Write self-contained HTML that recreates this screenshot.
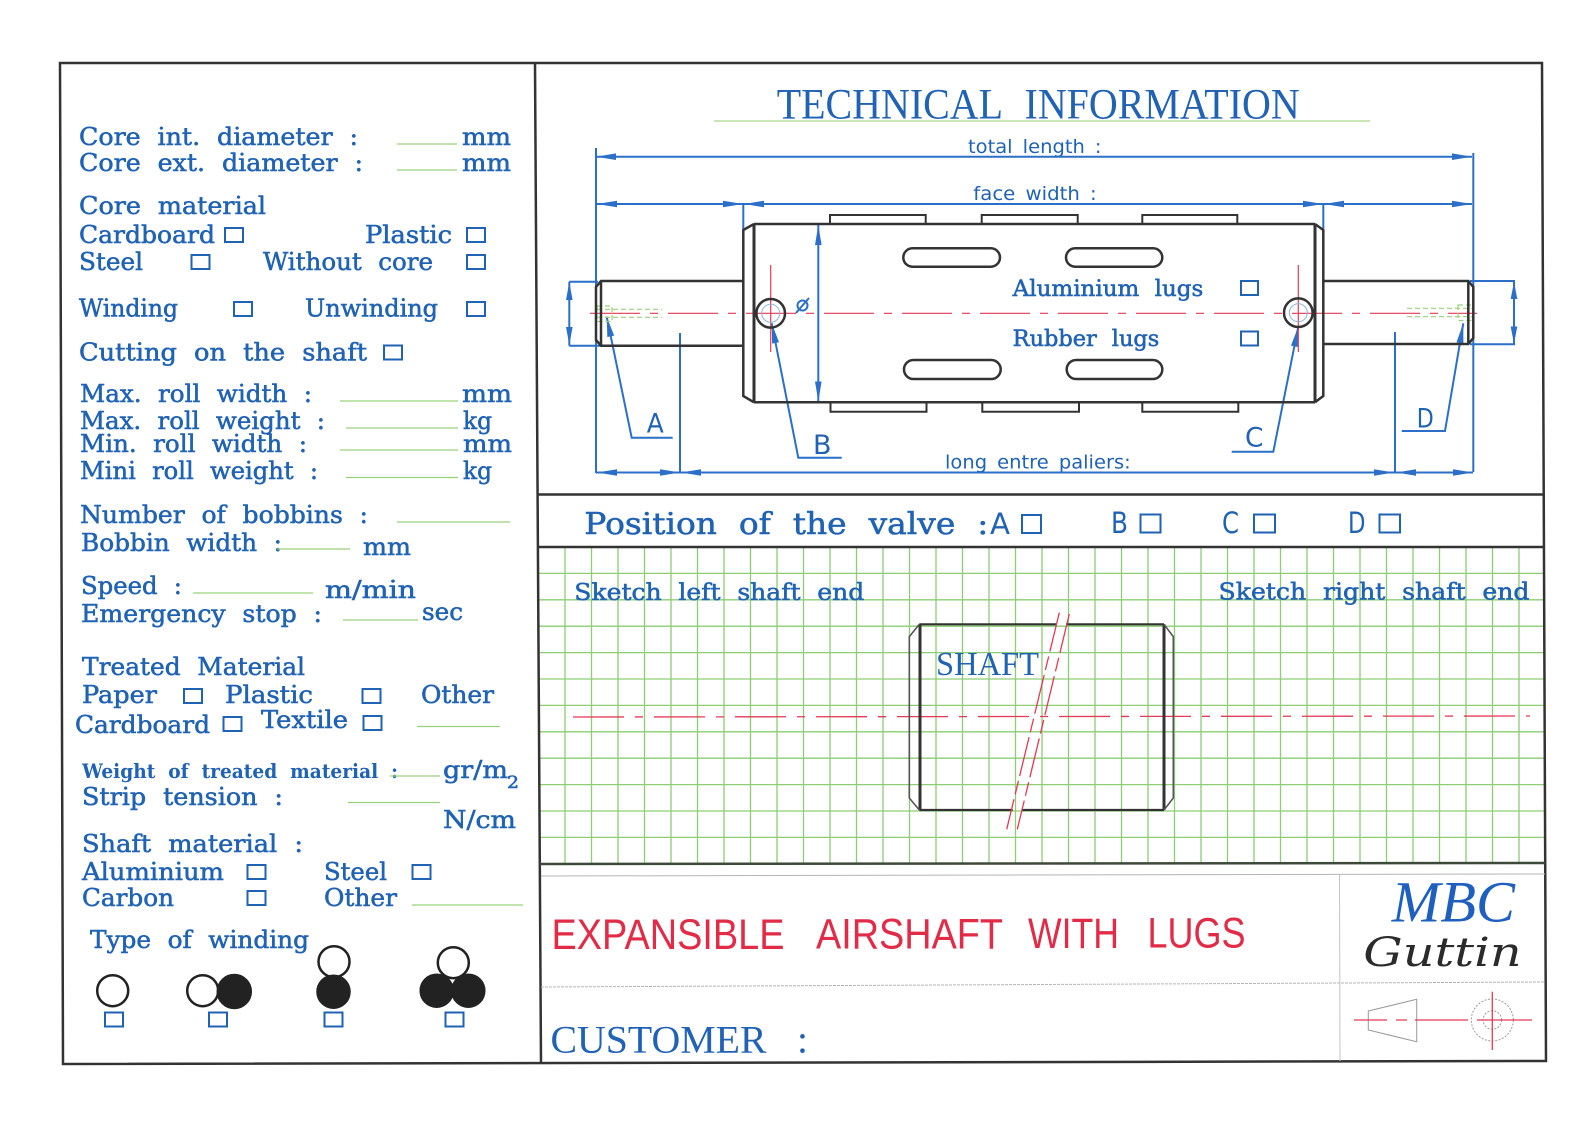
<!DOCTYPE html>
<html>
<head>
<meta charset="utf-8">
<style>
html,body{margin:0;padding:0;background:#fff;}
svg{display:block;}
.l{font-family:"DejaVu Serif",serif;font-weight:normal;font-size:24px;fill:#2062b4;stroke:#2062b4;stroke-width:0.55;word-spacing:0.35em;}
.s{font-family:"DejaVu Sans",sans-serif;font-size:19px;fill:#2062b4;word-spacing:0.2em;}
.ab{font-family:"DejaVu Sans",sans-serif;font-size:27px;fill:#2062b4;}
.cb{fill:none;stroke:#2062b4;stroke-width:2;}
.bl{stroke:#2b6fc8;stroke-width:2;fill:none;}
.ar{fill:#2b6fc8;}
.dk{stroke:#333;stroke-width:2.5;fill:none;}
.gr{stroke:#9bd07a;stroke-width:1.2;}
</style>
</head>
<body>
<svg width="1595" height="1127" viewBox="0 0 1595 1127" xmlns="http://www.w3.org/2000/svg">
<rect width="1595" height="1127" fill="#fff"/>

<!-- GRID -->
<path stroke="#8dcd74" stroke-width="1.3" fill="none" d="M565 547V864M591.5 547V864M618 547V864M644.5 547V864M671 547V864M697.5 547V864M724 547V864M750.5 547V864M777 547V864M803.5 547V864M830 547V864M856.5 547V864M883 547V864M909.5 547V864M936 547V864M962.5 547V864M989 547V864M1015.5 547V864M1042 547V864M1068.5 547V864M1095 547V864M1121.5 547V864M1148 547V864M1174.5 547V864M1201 547V864M1227.5 547V864M1254 547V864M1280.5 547V864M1307 547V864M1333.5 547V864M1360 547V864M1386.5 547V864M1413 547V864M1439.5 547V864M1466 547V864M1492.5 547V864M1519 547V864
M539 573.4H1545M539 599.8H1545M539 626.2H1545M539 652.6H1545M539 679H1545M539 705.4H1545M539 731.8H1545M539 758.2H1545M539 784.6H1545M539 811H1545M539 837.4H1545"/>

<!-- FRAME -->
<polygon points="60,63 1542,63 1546,1061 63,1064" fill="none" stroke="#333" stroke-width="2.5"/>
<line x1="535" y1="63" x2="541" y2="1064" stroke="#333" stroke-width="2.5"/>
<line x1="537.5" y1="494.5" x2="1543.5" y2="494.5" stroke="#333" stroke-width="2.5"/>
<line x1="538" y1="547" x2="1544" y2="547" stroke="#333" stroke-width="2.5"/>
<line x1="540" y1="864" x2="1545" y2="863" stroke="#3d4a3a" stroke-width="2.5"/>
<line x1="541" y1="876" x2="1545" y2="874" stroke="#b5b5b5" stroke-width="1"/>
<line x1="541" y1="987" x2="1545" y2="982" stroke="#b5b5b5" stroke-width="1" stroke-dasharray="3 1"/>
<line x1="1339.5" y1="875" x2="1340" y2="1061" stroke="#c5c5c5" stroke-width="1"/>

<!-- LEFT PANEL -->
<text class="l" x="79" y="145" textLength="279" lengthAdjust="spacingAndGlyphs">Core int. diameter :</text>
<line class="gr" x1="397" y1="144" x2="457" y2="144"/>
<text class="l" x="462" y="145" textLength="49" lengthAdjust="spacingAndGlyphs">mm</text>
<text class="l" x="79" y="171" textLength="284" lengthAdjust="spacingAndGlyphs">Core ext. diameter :</text>
<line class="gr" x1="397" y1="170" x2="457" y2="170"/>
<text class="l" x="462" y="171" textLength="49" lengthAdjust="spacingAndGlyphs">mm</text>

<text class="l" x="79" y="214" textLength="187" lengthAdjust="spacingAndGlyphs">Core material</text>
<text class="l" x="79" y="243" textLength="136" lengthAdjust="spacingAndGlyphs">Cardboard</text>
<rect class="cb" x="225" y="228" width="18" height="14"/>
<text class="l" x="365" y="243" textLength="87" lengthAdjust="spacingAndGlyphs">Plastic</text>
<rect class="cb" x="467" y="228" width="18" height="14"/>
<text class="l" x="79" y="270" textLength="64" lengthAdjust="spacingAndGlyphs">Steel</text>
<rect class="cb" x="191.5" y="255" width="18" height="14"/>
<text class="l" x="263" y="270" textLength="170" lengthAdjust="spacingAndGlyphs">Without core</text>
<rect class="cb" x="467" y="255" width="18" height="14"/>

<text class="l" x="79" y="316.7" textLength="99" lengthAdjust="spacingAndGlyphs">Winding</text>
<rect class="cb" x="234" y="302" width="18" height="14"/>
<text class="l" x="305" y="316.7" textLength="133" lengthAdjust="spacingAndGlyphs">Unwinding</text>
<rect class="cb" x="467" y="302" width="18" height="14"/>

<text class="l" x="79" y="360.5" textLength="288" lengthAdjust="spacingAndGlyphs">Cutting on the shaft</text>
<rect class="cb" x="384" y="345.5" width="18" height="14"/>

<text class="l" x="80" y="402" textLength="232" lengthAdjust="spacingAndGlyphs">Max. roll width :</text>
<line class="gr" x1="340" y1="401" x2="458" y2="401"/>
<text class="l" x="462" y="402" textLength="50" lengthAdjust="spacingAndGlyphs">mm</text>
<text class="l" x="80" y="429" textLength="245" lengthAdjust="spacingAndGlyphs">Max. roll weight :</text>
<line class="gr" x1="346" y1="428" x2="458" y2="428"/>
<text class="l" x="463" y="429" textLength="29" lengthAdjust="spacingAndGlyphs">kg</text>
<text class="l" x="80" y="452" textLength="227" lengthAdjust="spacingAndGlyphs">Min. roll width :</text>
<line class="gr" x1="340" y1="450" x2="458" y2="450"/>
<text class="l" x="463" y="452" textLength="49" lengthAdjust="spacingAndGlyphs">mm</text>
<text class="l" x="80" y="479" textLength="238" lengthAdjust="spacingAndGlyphs">Mini roll weight :</text>
<line class="gr" x1="346" y1="477.5" x2="458" y2="477.5"/>
<text class="l" x="463" y="479" textLength="29" lengthAdjust="spacingAndGlyphs">kg</text>

<text class="l" x="80" y="523" textLength="288" lengthAdjust="spacingAndGlyphs">Number of bobbins :</text>
<line class="gr" x1="397" y1="522" x2="510" y2="522"/>
<text class="l" x="81" y="551" textLength="201" lengthAdjust="spacingAndGlyphs">Bobbin width :</text>
<line class="gr" x1="277" y1="549" x2="350" y2="549"/>
<text class="l" x="363" y="555" textLength="48" lengthAdjust="spacingAndGlyphs">mm</text>

<text class="l" x="81" y="594" textLength="101" lengthAdjust="spacingAndGlyphs">Speed :</text>
<line class="gr" x1="193" y1="593" x2="313" y2="593"/>
<text class="l" x="325" y="598" textLength="91" lengthAdjust="spacingAndGlyphs">m/min</text>
<text class="l" x="81" y="622" textLength="241" lengthAdjust="spacingAndGlyphs">Emergency stop :</text>
<line class="gr" x1="343" y1="620" x2="418" y2="620"/>
<text class="l" x="422" y="620" textLength="41" lengthAdjust="spacingAndGlyphs">sec</text>

<text class="l" x="82" y="675" textLength="223" lengthAdjust="spacingAndGlyphs">Treated Material</text>
<text class="l" x="82" y="703" textLength="75" lengthAdjust="spacingAndGlyphs">Paper</text>
<rect class="cb" x="184" y="689" width="18" height="14"/>
<text class="l" x="225" y="703" textLength="88" lengthAdjust="spacingAndGlyphs">Plastic</text>
<rect class="cb" x="362.5" y="689" width="18" height="14"/>
<text class="l" x="421" y="703" textLength="73" lengthAdjust="spacingAndGlyphs">Other</text>
<text class="l" x="75" y="733" textLength="135" lengthAdjust="spacingAndGlyphs">Cardboard</text>
<rect class="cb" x="223.5" y="717" width="18" height="14"/>
<text class="l" x="261" y="728" textLength="87" lengthAdjust="spacingAndGlyphs">Textile</text>
<rect class="cb" x="363.5" y="716" width="18" height="14"/>
<line class="gr" x1="417" y1="726.5" x2="500" y2="726.5"/>

<text class="l" x="82" y="778" style="font-size:19.5px;font-weight:bold;stroke-width:0" textLength="316" lengthAdjust="spacingAndGlyphs">Weight of treated material :</text>
<line class="gr" x1="390" y1="776" x2="440" y2="776"/>
<text class="l" x="443" y="778" textLength="65" lengthAdjust="spacingAndGlyphs">gr/m</text>
<text class="l" x="507" y="788" style="font-size:17px" textLength="12" lengthAdjust="spacingAndGlyphs">2</text>
<text class="l" x="82" y="805" textLength="201" lengthAdjust="spacingAndGlyphs">Strip tension :</text>
<line class="gr" x1="348" y1="802.5" x2="440" y2="802.5"/>
<text class="l" x="443" y="828" textLength="73" lengthAdjust="spacingAndGlyphs">N/cm</text>

<text class="l" x="82" y="852" textLength="221" lengthAdjust="spacingAndGlyphs">Shaft material :</text>
<text class="l" x="82" y="880" textLength="142" lengthAdjust="spacingAndGlyphs">Aluminium</text>
<rect class="cb" x="247.5" y="865" width="18" height="14"/>
<text class="l" x="324" y="880" textLength="63" lengthAdjust="spacingAndGlyphs">Steel</text>
<rect class="cb" x="412.5" y="865" width="18" height="14"/>
<text class="l" x="82" y="906" textLength="92" lengthAdjust="spacingAndGlyphs">Carbon</text>
<rect class="cb" x="247.5" y="891" width="18" height="14"/>
<text class="l" x="324" y="906" textLength="73" lengthAdjust="spacingAndGlyphs">Other</text>
<line class="gr" x1="412" y1="905" x2="523" y2="905"/>

<text class="l" x="90" y="948" textLength="219" lengthAdjust="spacingAndGlyphs">Type of winding</text>

<!-- winding symbols -->
<g stroke="#222" stroke-width="2.5">
<circle cx="112.7" cy="990.7" r="15.5" fill="none"/>
<circle cx="202.7" cy="990.7" r="15.5" fill="none"/>
<circle cx="234.3" cy="991.5" r="16.5" fill="#222"/>
<circle cx="334" cy="961.7" r="15.5" fill="none"/>
<circle cx="333.5" cy="991.7" r="16" fill="#222"/>
<circle cx="453.3" cy="962.7" r="15.5" fill="none"/>
<circle cx="436.7" cy="990.7" r="16" fill="#222"/>
<circle cx="468.3" cy="990.7" r="16" fill="#222"/>
</g>
<rect class="cb" x="105" y="1012.5" width="18" height="14"/>
<rect class="cb" x="209" y="1012.5" width="18" height="14"/>
<rect class="cb" x="324.5" y="1012.5" width="18" height="14"/>
<rect class="cb" x="445.5" y="1012.5" width="18" height="14"/>

<!-- TECHNICAL INFORMATION -->
<text x="776.7" y="118.3" font-family="Liberation Serif, serif" font-size="43" fill="#2062b4" style="word-spacing:14px" textLength="523" lengthAdjust="spacingAndGlyphs">TECHNICAL INFORMATION</text>
<line x1="714" y1="121" x2="1370" y2="121" stroke="#a8d88a" stroke-width="1.2"/>

<text class="s" x="968" y="153" textLength="133.5" lengthAdjust="spacingAndGlyphs">total length :</text>
<text class="s" x="973.3" y="200" textLength="123.4" lengthAdjust="spacingAndGlyphs">face width :</text>
<text class="s" x="945" y="468.3" textLength="185.7" lengthAdjust="spacingAndGlyphs">long entre paliers:</text>

<!-- dimension lines -->
<g class="bl">
<path d="M596 156.7H1472M596 204H1472M596 472.5H1473"/>
<path d="M596 148V473M743.3 204V229M1323.3 204V229M680 333V473M1395 332V472M1473.3 153V472"/>
<path d="M818.3 224.3V402.3"/>
<path d="M569.3 281.7V345.7M569.3 281.7H598M569.3 345.7H601"/>
<path d="M1514 281V344.3M1470 281H1515M1470 344.3H1515"/>
<path d="M606.7 316.7L631.7 437.7H672.7"/>
<path d="M771.7 323.3L798.3 457.7H841.7"/>
<path d="M1298.3 326.7L1273.3 451.7H1231.7"/>
<path d="M1463.3 323.3L1445 431H1401.7"/>
</g>
<g class="ar">
<polygon points="596,156.7 616,153.4 616,160"/>
<polygon points="1472,156.7 1452,153.4 1452,160"/>
<polygon points="597,204 617,200.7 617,207.3"/>
<polygon points="743,204 723,200.7 723,207.3"/>
<polygon points="744,204 764,200.7 764,207.3"/>
<polygon points="1323,204 1303,200.7 1303,207.3"/>
<polygon points="1324,204 1344,200.7 1344,207.3"/>
<polygon points="1472,204 1452,200.7 1452,207.3"/>
<polygon points="597,472.5 617,469.2 617,475.8"/>
<polygon points="680,472.5 660,469.2 660,475.8"/>
<polygon points="681,472.5 701,469.2 701,475.8"/>
<polygon points="1394,472.5 1374,469.2 1374,475.8"/>
<polygon points="1396,472.5 1416,469.2 1416,475.8"/>
<polygon points="1473,472.5 1453,469.2 1453,475.8"/>
<polygon points="818.3,225 815,245 821.6,245"/>
<polygon points="818.3,401.5 815,381.5 821.6,381.5"/>
<polygon points="569.3,282 566,300 572.6,300"/>
<polygon points="569.3,345 566,327 572.6,327"/>
<polygon points="1514,281.5 1510.7,299 1517.3,299"/>
<polygon points="1514,344 1510.7,326.5 1517.3,326.5"/>
<polygon points="606.7,316.7 614.17,335.57 607.31,336.99"/>
<polygon points="771.7,323.3 779.01,342.24 772.15,343.6"/>
<polygon points="1298.3,326.7 1297.81,346.99 1290.95,345.61"/>
<polygon points="1463.3,323.3 1463.4,343.61 1456.5,342.43"/>
</g>

<!-- diameter symbol -->
<circle cx="802.5" cy="305.5" r="5" fill="none" stroke="#2b6fc8" stroke-width="2"/>
<line x1="796" y1="313" x2="809" y2="298" stroke="#2b6fc8" stroke-width="2"/>

<!-- labels A B C D -->
<text class="ab" x="646.7" y="432.3" textLength="17" lengthAdjust="spacingAndGlyphs">A</text>
<text class="ab" x="813" y="454" textLength="18.5" lengthAdjust="spacingAndGlyphs">B</text>
<text class="ab" x="1245" y="446.5" textLength="18.5" lengthAdjust="spacingAndGlyphs">C</text>
<text class="ab" x="1416.7" y="427.5" textLength="17" lengthAdjust="spacingAndGlyphs">D</text>

<!-- centerline -->
<line x1="590" y1="313.3" x2="1477" y2="313.3" stroke="#e33a55" stroke-width="1.2" stroke-dasharray="50 10 8 10"/>

<!-- hidden lines -->
<g stroke="#9bd07a" stroke-width="1.2" fill="none" stroke-dasharray="5 3">
<path d="M597 309.3H662M597 317.3H662"/>
<rect x="597" y="306" width="15" height="15.5"/>
<path d="M1407 308.3H1473M1407 316.7H1473"/>
<rect x="1458" y="305" width="15" height="15.5"/>
</g>

<!-- body -->
<g class="dk">
<path d="M754 224H1315M754 402.3H1315"/>
<path d="M754 224V402.3M1315 224V402.3" stroke-width="3"/>
<path d="M754 224L743.3 230V396L754 402.3M1315 224L1323.3 230V396L1315 402.3"/>
<path stroke-width="2" d="M830 224V215H925.7V224M981.7 224V215H1077.7V224M1142.3 224V215H1237.3V224"/>
<path stroke-width="2" d="M830.5 402.3V411.7H926.5V402.3M982.3 402.3V411.7H1079V402.3M1142.3 402.3V411.7H1238.3V402.3"/>
<rect x="903.3" y="248.3" width="96.7" height="18.4" rx="9.2"/>
<rect x="1066" y="248.3" width="96.3" height="18.4" rx="9.2"/>
<rect x="904" y="360" width="96.7" height="19" rx="9.5"/>
<rect x="1066.7" y="360" width="95.6" height="19" rx="9.5"/>
<path d="M743.3 281H601L596 287V340L601 345.7H743.3M601 281V345.7"/>
<path d="M1323.3 281H1468.3L1473.3 287V338L1468.3 344H1323.3M1468.3 281V344"/>
</g>

<!-- valves -->
<line x1="770.7" y1="265" x2="770.7" y2="352" stroke="#e33a55" stroke-width="1.2"/>
<line x1="1298.3" y1="265" x2="1298.3" y2="352" stroke="#e33a55" stroke-width="1.2"/>
<circle cx="770.7" cy="313.3" r="9" fill="none" stroke="#8ab4e0" stroke-width="1"/>
<circle cx="1298.3" cy="312.7" r="9" fill="none" stroke="#8ab4e0" stroke-width="1"/>
<circle cx="770.7" cy="313.3" r="14.3" fill="none" stroke="#333" stroke-width="2.5"/>
<circle cx="1298.3" cy="312.7" r="14.3" fill="none" stroke="#333" stroke-width="2.5"/>

<text class="l" x="1012.7" y="296" style="font-size:22px" textLength="190.6" lengthAdjust="spacingAndGlyphs">Aluminium lugs</text>
<rect class="cb" x="1241" y="281" width="17" height="14"/>
<text class="l" x="1012.7" y="346" style="font-size:22px" textLength="146.6" lengthAdjust="spacingAndGlyphs">Rubber lugs</text>
<rect class="cb" x="1241" y="331.5" width="17" height="14"/>

<!-- POSITION OF VALVE -->
<text class="l" x="584.3" y="534" style="font-size:30px" textLength="404" lengthAdjust="spacingAndGlyphs">Position of the valve :</text>
<text class="ab" x="990" y="534" style="font-size:29px" textLength="20" lengthAdjust="spacingAndGlyphs">A</text>
<rect class="cb" x="1022" y="515" width="19" height="18"/>
<text class="ab" x="1111" y="533" style="font-size:29px" textLength="17" lengthAdjust="spacingAndGlyphs">B</text>
<rect class="cb" x="1140.5" y="514.5" width="20" height="18"/>
<text class="ab" x="1222" y="533" style="font-size:29px" textLength="17" lengthAdjust="spacingAndGlyphs">C</text>
<rect class="cb" x="1254" y="514.5" width="21" height="18"/>
<text class="ab" x="1348" y="533" style="font-size:29px" textLength="17.5" lengthAdjust="spacingAndGlyphs">D</text>
<rect class="cb" x="1379.5" y="514.5" width="20.5" height="18"/>

<!-- SKETCH AREA -->
<text class="l" x="574.3" y="600" style="font-size:23px" textLength="290" lengthAdjust="spacingAndGlyphs">Sketch left shaft end</text>
<text class="l" x="1218.5" y="599.5" style="font-size:23px" textLength="311" lengthAdjust="spacingAndGlyphs">Sketch right shaft end</text>

<line x1="573" y1="717" x2="1530" y2="716" stroke="#e33a55" stroke-width="1.3" stroke-dasharray="51 11 8 11"/>

<g stroke="#333" fill="none">
<path stroke-width="2.2" d="M919.3 624.3H1056.7M1066 624.3H1164M919.3 810H1012.7M1021.7 810H1164"/>
<path stroke-width="3" d="M920 624.3V810M1164 624.3V810"/>
<path stroke-width="1.6" stroke="#555" d="M919.3 624.3L909.3 636.7V798L919.3 810M1164 624.3L1173.3 636.7V798L1164 810"/>
</g>
<g stroke="#e33a55" stroke-width="1.3" stroke-dasharray="40 5 14 5">
<line x1="1059.3" y1="612.7" x2="1006.7" y2="829.3"/>
<line x1="1069.3" y1="614" x2="1017.3" y2="829.3"/>
</g>
<text x="936" y="675" font-family="Liberation Serif, serif" font-size="33.7" fill="#2062b4" textLength="103" lengthAdjust="spacingAndGlyphs">SHAFT</text>

<!-- TITLE BLOCK -->
<g font-family="Liberation Sans, sans-serif" font-size="42.7" fill="#e12b47">
<text x="551.5" y="949" textLength="233" lengthAdjust="spacingAndGlyphs">EXPANSIBLE</text>
<text x="816" y="948.5" textLength="187" lengthAdjust="spacingAndGlyphs">AIRSHAFT</text>
<text x="1028" y="948" textLength="91" lengthAdjust="spacingAndGlyphs">WITH</text>
<text x="1147.5" y="947.5" textLength="98" lengthAdjust="spacingAndGlyphs">LUGS</text>
</g>
<text x="550.5" y="1052.3" font-family="Liberation Serif, serif" font-size="39.5" fill="#2062b4" textLength="216" lengthAdjust="spacingAndGlyphs">CUSTOMER</text>
<text x="797" y="1052.3" font-family="Liberation Serif, serif" font-size="39.5" fill="#2062b4">:</text>

<text x="1391.7" y="921.7" font-family="Liberation Serif, serif" font-style="italic" font-size="58" fill="#1f5fc0" textLength="123.3" lengthAdjust="spacingAndGlyphs">MBC</text>
<text x="1363.3" y="966" font-family="DejaVu Serif, serif" font-style="italic" font-size="40" fill="#2b2b2b" textLength="158.4" lengthAdjust="spacingAndGlyphs">Guttin</text>

<!-- logo -->
<polygon points="1368.3,1011 1416.7,999.3 1416.7,1041.7 1368.3,1030" fill="none" stroke="#9a9a9a" stroke-width="1"/>
<circle cx="1492.3" cy="1020" r="21" fill="none" stroke="#9a9a9a" stroke-width="1" stroke-dasharray="2 1.5"/>
<circle cx="1492.3" cy="1020" r="9.3" fill="none" stroke="#9a9a9a" stroke-width="1" stroke-dasharray="2 1.5"/>
<g stroke="#e33a55" stroke-width="1.3">
<path d="M1354 1020H1387M1396 1020H1407M1415 1020H1468M1477 1020H1532"/>
<path d="M1492.3 991.7V1050"/>
</g>
</svg>
</body>
</html>
